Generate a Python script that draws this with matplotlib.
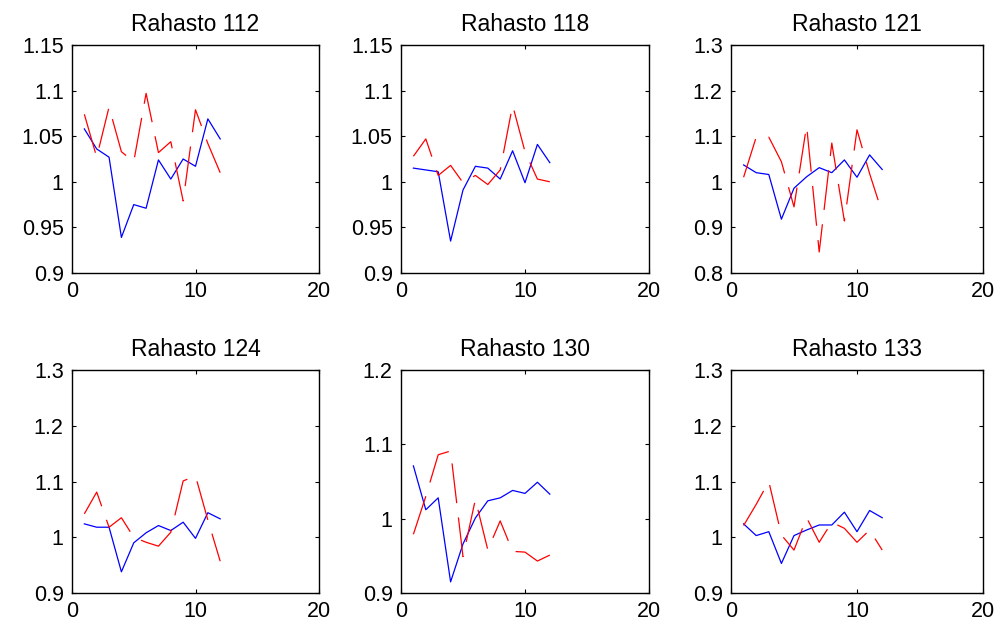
import numpy as np
import matplotlib
matplotlib.use("Agg")
import matplotlib.pyplot as plt

plt.rcParams['font.family'] = ['Liberation Sans', 'DejaVu Sans']

# monthly index for every fund
months = np.arange(1, 13)

titles = ["Rahasto 112", "Rahasto 118", "Rahasto 121",
          "Rahasto 124", "Rahasto 130", "Rahasto 133"]

# blue: solid series, red: dashed series
blue_112 = [1.058, 1.036, 1.027, 0.939, 0.975, 0.971, 1.024, 1.003, 1.025, 1.017, 1.069, 1.047]
red_112 = [1.074, 1.027, 1.082, 1.033, 1.022, 1.097, 1.032, 1.044, 0.979, 1.079, 1.042, 1.010]

blue_118 = [1.015, 1.013, 1.011, 0.935, 0.991, 1.017, 1.015, 1.003, 1.034, 0.999, 1.041, 1.021]
red_118 = [1.028, 1.047, 1.007, 1.018, 0.999, 1.007, 0.997, 1.013, 1.084, 1.033, 1.003, 1.000]

blue_121 = [1.037, 1.020, 1.016, 0.918, 0.986, 1.011, 1.031, 1.020, 1.048, 1.010, 1.059, 1.027]
red_121 = [1.010, 1.098, 1.098, 1.044, 0.945, 1.123, 0.846, 1.085, 0.914, 1.114, 1.018, 0.932]

blue_124 = [1.024, 1.018, 1.018, 0.938, 0.990, 1.008, 1.021, 1.012, 1.027, 0.998, 1.044, 1.033]
red_124 = [1.042, 1.081, 1.018, 1.035, 1.000, 0.991, 0.984, 1.009, 1.101, 1.110, 1.031, 0.957]

blue_130 = [1.071, 1.012, 1.028, 0.915, 0.966, 1.001, 1.024, 1.028, 1.038, 1.034, 1.049, 1.033]
red_130 = [0.979, 1.030, 1.086, 1.091, 0.949, 1.026, 0.958, 0.997, 0.956, 0.955, 0.943, 0.951]

blue_133 = [1.024, 1.003, 1.010, 0.953, 1.003, 1.013, 1.022, 1.022, 1.045, 1.010, 1.048, 1.035]
red_133 = [1.021, 1.059, 1.100, 1.004, 0.977, 1.035, 0.991, 1.027, 1.016, 0.991, 1.013, 0.977]

blues = [blue_112, blue_118, blue_121, blue_124, blue_130, blue_133]
reds = [red_112, red_118, red_121, red_124, red_130, red_133]

ylims = [(0.9, 1.15), (0.9, 1.15), (0.8, 1.3), (0.9, 1.3), (0.9, 1.2), (0.9, 1.3)]
yticks = [
    [0.9, 0.95, 1.0, 1.05, 1.1, 1.15],
    [0.9, 0.95, 1.0, 1.05, 1.1, 1.15],
    [0.8, 0.9, 1.0, 1.1, 1.2, 1.3],
    [0.9, 1.0, 1.1, 1.2, 1.3],
    [0.9, 1.0, 1.1, 1.2],
    [0.9, 1.0, 1.1, 1.2, 1.3],
]
xticks = [0, 10, 20]

W, H = 1000, 621
# panel boxes in pixels: left, top, right, bottom
boxes = [
    (72, 45, 319, 273), (401, 45, 649, 273), (731, 45, 983, 273),
    (72, 370, 319, 593), (401, 370, 649, 593), (731, 370, 983, 593),
]


def fmt(v):
    return "%g" % v


fig = plt.figure(figsize=(W / 100, H / 100), dpi=100)

for i in range(6):
    l, t, r, b = boxes[i]
    ax = fig.add_axes([l / W, 1 - b / H, (r - l) / W, (b - t) / H])
    ax.plot(months, blues[i], color='#0000ff', lw=0.9)
    ax.plot(months, reds[i], color='#ff0000', lw=0.9, dashes=(32, 11.5))
    ax.set_xlim(0, 20)
    ax.set_ylim(*ylims[i])
    ax.set_xticks(xticks)
    ax.set_xticklabels([fmt(v) for v in xticks])
    ax.set_yticks(yticks[i])
    ax.set_yticklabels([fmt(v) for v in yticks[i]])
    ax.tick_params(direction='in', length=3, width=0.8, labelsize=15.5,
                   top=True, right=True, pad=6)
    for s in ax.spines.values():
        s.set_linewidth(1.0)
    ax.set_title(titles[i], fontsize=16.5, pad=10)

fig.savefig("out.png", dpi=100)
